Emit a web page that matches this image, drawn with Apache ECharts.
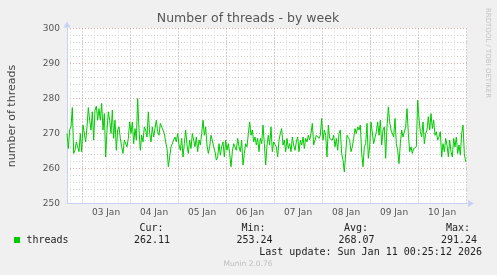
<!DOCTYPE html>
<html><head><meta charset="utf-8">
<script src="https://cdn.jsdelivr.net/npm/echarts@6/dist/echarts.min.js"></script>
<style>html,body{margin:0;padding:0;background:#F0F0F0;overflow:hidden}#c{width:497px;height:275px}</style>
</head><body><div id="c"></div>
<script>
const titleText = 'Number of threads - by week';
const yAxisName = 'number of threads';
const seriesName = 'threads';
const dayLabels = ['03 Jan', '04 Jan', '05 Jan', '06 Jan', '07 Jan', '08 Jan', '09 Jan', '10 Jan'];
const labelHours = [12, 36, 60, 84, 108, 132, 156, 180];
const majorHours = [0, 24, 48, 72, 96, 120, 144, 168, 192];
const minorHours = [-6, 0, 6, 12, 18, 24, 30, 36, 42, 48, 54, 60, 66, 72, 78, 84, 90, 96, 102, 108, 114, 120, 126, 132, 138, 144, 150, 156, 162, 168, 174, 180, 186, 192];
const xMin = -7.5, xMax = 192.5;
const yMin = 250, yMax = 300;
const startHour = -7.5, stepHours = 40 / 60;
const threads = [
270.0, 265.7, 271.0, 271.9, 277.4, 264.3, 265.2, 267.6, 267.1, 264.8,
270.0, 264.8, 272.4, 271.9, 267.6, 271.9, 277.4, 273.8, 271.0, 276.2,
268.1, 276.7, 277.8, 273.8, 277.1, 273.8, 278.6, 271.0, 275.7, 263.3,
271.0, 276.2, 273.8, 270.0, 276.7, 268.6, 273.8, 265.2, 271.0,
271.9, 268.6, 266.2, 264.3, 268.1, 267.6, 266.2, 268.6, 273.3, 270.0,
273.3, 267.1, 271.4, 268.1, 280.0, 271.0, 265.2, 269.5, 267.6, 271.9,
271.0, 269.0, 276.2, 270.0, 267.6, 271.9, 269.0, 271.4, 273.8, 270.5,
269.5, 272.9, 273.3, 271.0, 270.0, 267.6, 265.7, 260.5, 263.3, 266.2,
266.7, 268.1, 269.0, 267.6, 270.0, 266.7, 265.2, 268.6, 263.3, 267.1,
271.0, 266.7, 264.3, 268.1, 265.7, 270.0, 270.5, 266.2, 269.0, 264.8,
268.1, 266.7, 270.0, 273.8, 269.5, 271.9, 266.7, 264.3, 266.2, 269.5,
268.1, 266.2, 264.8, 262.4, 263.3, 267.1, 263.8, 266.2, 267.6, 263.3,
268.1, 265.2, 267.1, 264.3, 260.5, 264.8, 267.1, 267.6, 265.2, 268.6,
266.2, 264.8, 268.1, 261.0, 264.3, 267.1, 266.2, 270.0, 273.3, 269.5,
271.0, 267.6, 269.0, 266.7, 268.6, 264.8, 268.6, 267.1, 272.4, 267.1,
261.0, 266.7, 269.5, 266.7, 271.9, 264.8, 267.6, 268.1, 266.2, 263.3,
268.1,
270.0, 271.4, 266.7, 268.1, 264.8, 268.6, 265.7, 267.1, 264.8, 269.0,
266.7, 265.2, 267.6, 269.0, 264.8, 268.1, 266.7, 269.0, 265.7, 268.6,
267.6, 269.5, 268.1, 270.0, 272.9, 266.7, 267.1, 269.5, 270.0, 268.6,
269.5, 274.3, 268.1, 271.0, 269.5, 263.3, 272.4, 268.6, 269.0, 268.1,
269.5, 266.2, 268.6, 265.2, 270.0, 271.0, 264.3, 262.4, 259.0, 264.3,
269.5, 269.5, 268.1, 264.8, 266.2, 268.6, 271.4, 270.0, 271.9, 271.0,
272.4, 264.3, 260.5, 266.2, 267.1, 272.9, 262.9, 266.2, 273.3, 273.8,
267.1, 267.6, 270.5, 273.3, 269.5, 273.8, 266.7, 271.0, 271.9, 262.9,
271.9, 277.6, 273.3, 271.0, 271.4, 269.0, 274.3, 267.1, 265.2, 261.4,
267.1, 271.0, 269.0, 269.5, 271.9, 277.1, 270.0, 264.8, 266.2, 264.3,
265.7, 265.2, 266.2, 279.5, 274.3, 270.5, 269.0, 273.3, 267.1, 270.0,
271.0, 274.8, 271.0, 275.7, 271.4, 273.8, 269.5, 270.5, 268.1, 269.0,
270.5, 263.3, 267.1, 264.8, 268.6, 266.7, 263.3, 268.1, 264.8, 263.3,
268.6, 266.2, 269.0, 264.3, 266.7, 263.8, 270.0, 272.4, 264.3, 261.9
];
const statLabels = ['Cur:', 'Min:', 'Avg:', 'Max:'];
const statValues = ['262.11', '253.24', '268.07', '291.24'];
const lastUpdate = 'Last update: Sun Jan 11 00:25:12 2026';
const footer = 'Munin 2.0.76';
const watermark = 'RRDTOOL / TOBI OETIKER';

const seriesData = threads.map((v, i) => [startHour + i * stepHours, v]);

const FONT = 'DejaVu Sans';
const AXIS_COLOR = '#C8D0F4';
const MINOR_GRID = '#D4D4D4';
const MAJOR_GRID = '#E3A9A9';

const chart = echarts.init(document.getElementById('c'), null, {renderer: 'canvas'});

const statLabelRight = [163.5, 265.5, 368, 470];
const statValueRight = [170, 272.5, 374.5, 477];

const graphics = [
  {type: 'text', x: 248, y: 19, style: {text: titleText, font: '12.5px "DejaVu Sans"', fill: '#555', textAlign: 'center', textVerticalAlign: 'middle'}},
  {type: 'text', x: 12, y: 116, rotation: Math.PI / 2, style: {text: yAxisName, font: '11px "DejaVu Sans"', fill: '#444', textAlign: 'center', textVerticalAlign: 'middle'}},
  {type: 'text', x: 488, y: 53, rotation: -Math.PI / 2, style: {text: watermark, font: '7px "DejaVu Sans"', fill: '#C4C4C4', textAlign: 'center', textVerticalAlign: 'middle'}},
  {type: 'rect', shape: {x: 14, y: 237, width: 6, height: 6}, style: {fill: '#00CC00'}},
  {type: 'text', x: 26.5, y: 240, style: {text: seriesName, font: '10px "DejaVu Sans Mono"', fill: '#222', textAlign: 'left', textVerticalAlign: 'middle'}},
  {type: 'text', x: 482, y: 252, style: {text: lastUpdate, font: '10px "DejaVu Sans Mono"', fill: '#222', textAlign: 'right', textVerticalAlign: 'middle'}},
  {type: 'text', x: 248, y: 264.5, style: {text: footer, font: '7.5px "DejaVu Sans"', fill: '#BDBDBD', textAlign: 'center', textVerticalAlign: 'middle'}}
];
statLabels.forEach((t, i) => {
  graphics.push({type: 'text', x: statLabelRight[i], y: 228, style: {text: t, font: '10px "DejaVu Sans Mono"', fill: '#222', textAlign: 'right', textVerticalAlign: 'middle'}});
  graphics.push({type: 'text', x: statValueRight[i], y: 240, style: {text: statValues[i], font: '10px "DejaVu Sans Mono"', fill: '#222', textAlign: 'right', textVerticalAlign: 'middle'}});
});

chart.setOption({
  animation: false,
  backgroundColor: '#F0F0F0',
  textStyle: {fontFamily: FONT},
  grid: {left: 67, right: 30, top: 28.5, height: 175, show: true, backgroundColor: '#FFFFFF', borderWidth: 0, containLabel: false},
  xAxis: [
    {type: 'value', min: xMin, max: xMax, position: 'bottom',
     axisLine: {show: false}, axisLabel: {show: false},
     axisTick: {show: false, customValues: minorHours},
     splitLine: {show: true, lineStyle: {color: MINOR_GRID, type: [1, 2], width: 1}}},
    {type: 'value', min: xMin, max: xMax, position: 'bottom', offset: 0,
     axisLine: {show: true, onZero: false, lineStyle: {color: AXIS_COLOR, width: 1}, symbol: ['none', 'triangle'], symbolSize: [7, 6], symbolOffset: [0, 4]},
     axisTick: {show: false, customValues: majorHours},
     axisLabel: {show: true, customValues: labelHours, margin: 5, fontSize: 9, color: '#555', fontFamily: FONT,
                 formatter: v => dayLabels[labelHours.indexOf(v)] || ''},
     splitLine: {show: true, lineStyle: {color: MAJOR_GRID, type: [1, 2], width: 1}}}
  ],
  yAxis: [
    {type: 'value', min: yMin, max: yMax, interval: 2, position: 'left',
     axisLine: {show: false}, axisTick: {show: false}, axisLabel: {show: false},
     splitLine: {show: true, lineStyle: {color: MINOR_GRID, type: [1, 2], width: 1}}},
    {type: 'value', min: yMin, max: yMax, interval: 10, position: 'left', offset: 0,
     axisLine: {show: true, onZero: false, lineStyle: {color: AXIS_COLOR, width: 1}, symbol: ['none', 'triangle'], symbolSize: [7, 6], symbolOffset: [0, 4]},
     axisTick: {show: false},
     axisLabel: {show: true, margin: 7, fontSize: 9, color: '#555', fontFamily: FONT},
     splitLine: {show: true, lineStyle: {color: MAJOR_GRID, type: [1, 2], width: 1}}}
  ],
  series: [{
    name: seriesName, type: 'line', xAxisIndex: 1, yAxisIndex: 1,
    data: seriesData, showSymbol: false, symbol: 'none',
    lineStyle: {color: '#00CC00', width: 1}, itemStyle: {color: '#00CC00'}, z: 5
  }],
  graphic: graphics
});
</script>
</body></html>
